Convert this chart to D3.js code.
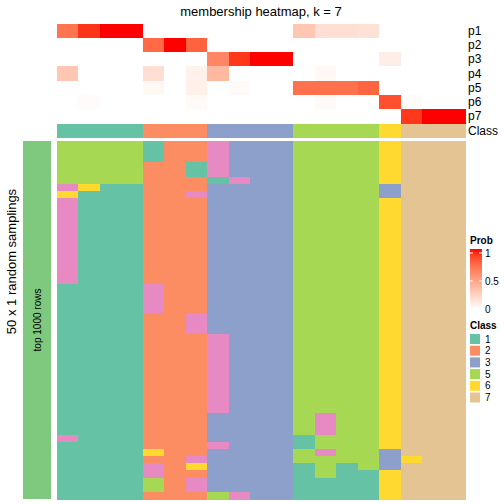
<!DOCTYPE html>
<html>
<head>
<meta charset="utf-8">
<script src="https://cdn.jsdelivr.net/npm/d3@7"></script>
<style>
  html, body { margin: 0; padding: 0; background: #ffffff; }
  svg { display: block; font-family: "Liberation Sans", Arial, sans-serif; }
</style>
</head>
<body>
<svg id="chart" width="504" height="504"></svg>
<script>
// ---------------- data ----------------
const columnIndex = d3.range(19);
const columnClass = [1, 1, 1, 1, 2, 2, 2, 3, 3, 3, 3, 5, 5, 5, 5, 6, 7, 7, 7];
const probRowNames = ["p1", "p2", "p3", "p4", "p5", "p6", "p7"];
const p1 = [0.7, 0.93, 1, 1, 0, 0, 0, 0, 0, 0, 0, 0.3, 0.17, 0.17, 0.16, 0, 0, 0, 0];
const p2 = [0, 0, 0, 0, 0.75, 1, 0.78, 0, 0, 0, 0, 0, 0, 0, 0, 0, 0, 0, 0];
const p3 = [0, 0, 0, 0, 0, 0, 0, 0.62, 0.92, 1, 1, 0, 0, 0, 0, 0.09, 0, 0, 0];
const p4 = [0.3, 0, 0, 0, 0.17, 0, 0.07, 0.37, 0, 0, 0, 0, 0.04, 0, 0, 0, 0, 0, 0];
const p5 = [0, 0, 0, 0, 0.04, 0, 0.08, 0, 0.03, 0, 0, 0.72, 0.72, 0.72, 0.77, 0, 0, 0, 0];
const p6 = [0, 0.02, 0, 0, 0, 0, 0.03, 0, 0, 0, 0, 0, 0.03, 0, 0, 0.85, 0.02, 0, 0];
const p7 = [0, 0, 0, 0, 0, 0, 0, 0, 0, 0, 0, 0, 0, 0, 0, 0, 0.92, 1, 1];
// 50 random samplings x 19 columns: class label of each cell
const samplingRows = [
  "5555122433355556777", "5555122433355556777", "5555122433355556777",
  "5555221433355556777", "5555221433355556777", "5555222143355556777",
  "4611222333355553777", "6111224333355553777",
  "4111222333355556777", "4111222333355556777", "4111222333355556777",
  "4111222333355556777", "4111222333355556777", "4111222333355556777",
  "4111222333355556777", "4111222333355556777", "4111222333355556777",
  "4111222333355556777", "4111222333355556777", "4111222333355556777",
  "1111422333355556777", "1111422333355556777", "1111422333355556777",
  "1111422333355556777",
  "1111224333355556777", "1111224333355556777", "1111224333355556777",
  "1111222433355556777", "1111222433355556777", "1111222433355556777",
  "1111222433355556777", "1111222433355556777", "1111222433355556777",
  "1111222433355556777", "1111222433355556777", "1111222433355556777",
  "1111222433355556777", "1111222433355556777",
  "1111222333354556777", "1111222333354556777", "1111222333354556777",
  "4111222333315556777", "1111222433315556777", "1111622333354553777",
  "1111224333355553677", "1111426333315153777", "1111422333315116777",
  "1111524333311116777", "1111524333311116777", "1111222543311116777"
];
const legendClasses = [1, 2, 3, 5, 6, 7];
const probTicks = [1, 0.5, 0];
const titleText = "membership heatmap, k = 7";
const leftTitle = "50 x 1 random samplings";
const leftAnnoText = "top 1000 rows";

// ---------------- styles ----------------
const classColor = d3.scaleOrdinal()
  .domain([1, 2, 3, 4, 5, 6, 7])
  .range(["#66C2A5", "#FC8D62", "#8DA0CB", "#E78AC3", "#A6D854", "#FFD92F", "#E5C494"]);
const probColor = d3.scaleLinear().domain([0, 1]).range(["#FFFFFF", "#FF0000"])
  .interpolate(d3.interpolateLab);

const svg = d3.select("#chart");

// ---------------- scales ----------------
const x = d3.scaleBand().domain(columnIndex).range([57, 465]);
const yTop = d3.scaleBand().domain(probRowNames).range([24, 123]);
const yClassAnno = [124, 138];
const rowIdx = d3.range(samplingRows.length);
const yBody = d3.scaleBand().domain(rowIdx).range([141, 499]);

const probData = [p1, p2, p3, p4, p5, p6, p7];

// top membership heatmap
const gTop = svg.append("g").attr("shape-rendering", "crispEdges");
probRowNames.forEach((name, ri) => {
  gTop.selectAll(null)
    .data(columnIndex)
    .enter().append("rect")
    .attr("x", d => x(d))
    .attr("y", yTop(name))
    .attr("width", x.bandwidth() + 0.5)
    .attr("height", yTop.bandwidth() + 0.5)
    .attr("fill", d => probColor(probData[ri][d]));
});

// class annotation row
gTop.selectAll(null)
  .data(columnIndex)
  .enter().append("rect")
  .attr("x", d => x(d))
  .attr("y", yClassAnno[0])
  .attr("width", x.bandwidth() + 0.5)
  .attr("height", yClassAnno[1] - yClassAnno[0])
  .attr("fill", d => classColor(columnClass[d]));

// row labels
const labelFont = 12;
probRowNames.forEach(name => {
  svg.append("text")
    .attr("x", 468)
    .attr("y", yTop(name) + yTop.bandwidth() / 2)
    .attr("dominant-baseline", "central")
    .attr("font-size", labelFont)
    .text(name);
});
svg.append("text")
  .attr("x", 468)
  .attr("y", (yClassAnno[0] + yClassAnno[1]) / 2)
  .attr("dominant-baseline", "central")
  .attr("font-size", labelFont)
  .text("Class");

// body heatmap
const gBody = svg.append("g").attr("shape-rendering", "crispEdges");
samplingRows.forEach((row, ri) => {
  gBody.selectAll(null)
    .data(columnIndex)
    .enter().append("rect")
    .attr("x", d => x(d))
    .attr("y", yBody(ri))
    .attr("width", x.bandwidth() + 0.5)
    .attr("height", yBody.bandwidth() + 0.5)
    .attr("fill", d => classColor(+row[d]));
});

// left annotation bar
svg.append("rect")
  .attr("x", 23).attr("y", yBody.range()[0])
  .attr("width", 28).attr("height", yBody.range()[1] - yBody.range()[0])
  .attr("fill", "#7FC97F")
  .attr("shape-rendering", "crispEdges");
const bodyMid = (yBody.range()[0] + yBody.range()[1]) / 2;
svg.append("text")
  .attr("transform", `translate(37,${bodyMid}) rotate(-90)`)
  .attr("text-anchor", "middle")
  .attr("dominant-baseline", "central")
  .attr("font-size", 10)
  .text(leftAnnoText);

// left title (centered on whole heatmap stack)
svg.append("text")
  .attr("transform", `translate(11,${(24 + 499) / 2}) rotate(-90)`)
  .attr("text-anchor", "middle")
  .attr("dominant-baseline", "central")
  .attr("font-size", 13)
  .text(leftTitle);

// title
svg.append("text")
  .attr("x", (x.range()[0] + x.range()[1]) / 2)
  .attr("y", 16)
  .attr("text-anchor", "middle")
  .attr("font-size", 13)
  .text(titleText);

// ---------------- legends ----------------
const lg = svg.append("g");
lg.append("text").attr("x", 470).attr("y", 244)
  .attr("font-size", 10).attr("font-weight", "bold").text("Prob");

const defs = svg.append("defs");
const grad = defs.append("linearGradient").attr("id", "probGrad")
  .attr("x1", 0).attr("y1", 1).attr("x2", 0).attr("y2", 0);
d3.range(0, 1.0001, 0.1).forEach(t => {
  grad.append("stop").attr("offset", t).attr("stop-color", probColor(t));
});
const yLeg = d3.scaleLinear().domain([0, 1]).range([309, 253]);
lg.append("rect").attr("x", 470).attr("y", 249).attr("width", 12).attr("height", 60)
  .attr("fill", "url(#probGrad)");
probTicks.forEach(t => {
  if (t > 0) {
    lg.append("line").attr("x1", 470).attr("x2", 473).attr("y1", yLeg(t)).attr("y2", yLeg(t))
      .attr("stroke", "#ffffff").attr("stroke-width", 1);
    lg.append("line").attr("x1", 479).attr("x2", 482).attr("y1", yLeg(t)).attr("y2", yLeg(t))
      .attr("stroke", "#ffffff").attr("stroke-width", 1);
  }
  lg.append("text").attr("x", 485).attr("y", yLeg(t))
    .attr("dominant-baseline", "central").attr("font-size", 10).text(t);
});

lg.append("text").attr("x", 470).attr("y", 329)
  .attr("font-size", 10).attr("font-weight", "bold").text("Class");
const yItem = d3.scaleBand().domain(legendClasses).range([333.5, 333.5 + 11.7 * legendClasses.length]);
legendClasses.forEach(c => {
  lg.append("rect").attr("x", 470).attr("y", yItem(c) + 0.5)
    .attr("width", 10).attr("height", 10).attr("fill", classColor(c));
  lg.append("text").attr("x", 485).attr("y", yItem(c) + 5.5)
    .attr("dominant-baseline", "central").attr("font-size", 10).text(c);
});
</script>
</body>
</html>
